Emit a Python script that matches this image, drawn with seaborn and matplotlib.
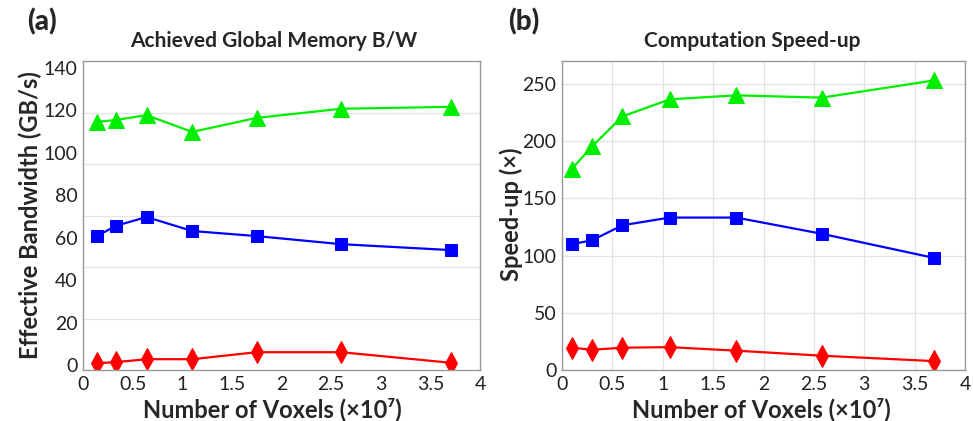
import numpy as np
import pandas as pd
import matplotlib
matplotlib.use('Agg')
import matplotlib.pyplot as plt
import seaborn as sns
from matplotlib.ticker import FixedLocator

# --- Datos ---
# Panel (a): ancho de banda efectivo (GB/s)
voxels_a = [0.14, 0.33, 0.64, 1.10, 1.75, 2.60, 3.71]
bw_green = [114.6, 115.5, 117.8, 109.9, 116.5, 120.8, 121.7]
bw_blue = [60.8, 65.6, 69.8, 63.2, 60.8, 57.0, 54.2]
bw_red = [0.9, 1.4, 2.8, 2.8, 6.1, 6.1, 1.1]

# Panel (b): aceleración (x)
voxels_b = [0.10, 0.30, 0.60, 1.07, 1.73, 2.58, 3.69]
su_green = [176, 195.5, 221.6, 236.5, 240, 238, 253]
su_blue = [110, 113.4, 126.5, 133.2, 133.2, 119, 98]
su_red = [19.5, 17.7, 19.5, 20, 16.9, 12.5, 7.8]

x_ticks = [0, 0.5, 1, 1.5, 2, 2.5, 3, 3.5, 4]
x_tick_labels = ['0', '0.5', '1', '1.5', '2', '2.5', '3', '3.5', '4']
y_ticks_a = [0, 20, 40, 60, 80, 100, 120, 140]
y_ticks_b = [0, 50, 100, 150, 200, 250]

sns.set_style('white')
plt.rcParams['font.family'] = ['Lato', 'DejaVu Sans']

fig = plt.figure(figsize=(9.73, 4.21), dpi=100)
ax_a = fig.add_axes([0.0853, 0.1211, 0.408, 0.734])
ax_b = fig.add_axes([0.5776, 0.1211, 0.4142, 0.734])

series_style = [
    ('#00ee00', '^', 11),
    ('#0000ff', 's', 8),
    ('#ff0000', 'd', 11),
]


def dibujar(ax, x, series):
    for (color, marker, ms), y in zip(series_style, series):
        df = pd.DataFrame({'x': x, 'y': y})
        sns.lineplot(data=df, x='x', y='y', ax=ax, color=color, marker=marker,
                     markersize=ms, markeredgecolor=color, linewidth=1.6)
    for sp in ax.spines.values():
        sp.set_color('#999999')
        sp.set_linewidth(1.0)
    ax.tick_params(axis='both', labelsize=14, length=0, pad=4, colors='#222222')
    ax.set_xlabel('')
    ax.set_ylabel('')


# --- Panel (a) ---
dibujar(ax_a, voxels_a, [bw_green, bw_blue, bw_red])
ylo, yhi = -2.3, 143.3
ax_a.set_xlim(0, 4)
ax_a.set_ylim(ylo, yhi)
ax_a.set_xticks(x_ticks)
ax_a.set_xticklabels(x_tick_labels)
ax_a.set_yticks(y_ticks_a)
ax_a.xaxis.set_minor_locator(FixedLocator([1, 2, 3]))
ax_a.yaxis.set_minor_locator(FixedLocator(np.linspace(ylo, yhi, 7)[1:-1]))
ax_a.tick_params(which='minor', length=0)
ax_a.grid(which='minor', color='#e3e3e3', linewidth=0.9)
ax_a.grid(which='major', visible=False)
ax_a.set_axisbelow(True)

# --- Panel (b) ---
dibujar(ax_b, voxels_b, [su_green, su_blue, su_red])
ax_b.set_xlim(0, 4)
ax_b.set_ylim(0, 270)
ax_b.set_xticks(x_ticks)
ax_b.set_xticklabels(x_tick_labels)
ax_b.set_yticks(y_ticks_b)
ax_b.grid(which='major', color='#e3e3e3', linewidth=0.9)
ax_b.set_axisbelow(True)

# --- Textos ---
fig.text(0.028, 0.948, '(a)', fontsize=20, fontweight='black', va='center', ha='left')
fig.text(0.522, 0.948, '(b)', fontsize=20, fontweight='black', va='center', ha='left')
fig.text(0.281, 0.903, 'Achieved Global Memory B/W', fontsize=15, fontweight='bold',
         ha='center', va='center')
fig.text(0.773, 0.903, 'Computation Speed-up', fontsize=15, fontweight='bold',
         ha='center', va='center')
fig.text(0.031, 0.49, 'Effective Bandwidth (GB/s)', fontsize=17, fontweight='bold',
         rotation=90, ha='center', va='center')
fig.text(0.525, 0.49, 'Speed-up (×)', fontsize=17, fontweight='bold',
         rotation=90, ha='center', va='center')
fig.text(0.28, 0.028, 'Number of Voxels (×10⁷)', fontsize=17, fontweight='bold',
         ha='center', va='center')
fig.text(0.782, 0.028, 'Number of Voxels (×10⁷)', fontsize=17, fontweight='bold',
         ha='center', va='center')

fig.savefig('out.png', dpi=100)
